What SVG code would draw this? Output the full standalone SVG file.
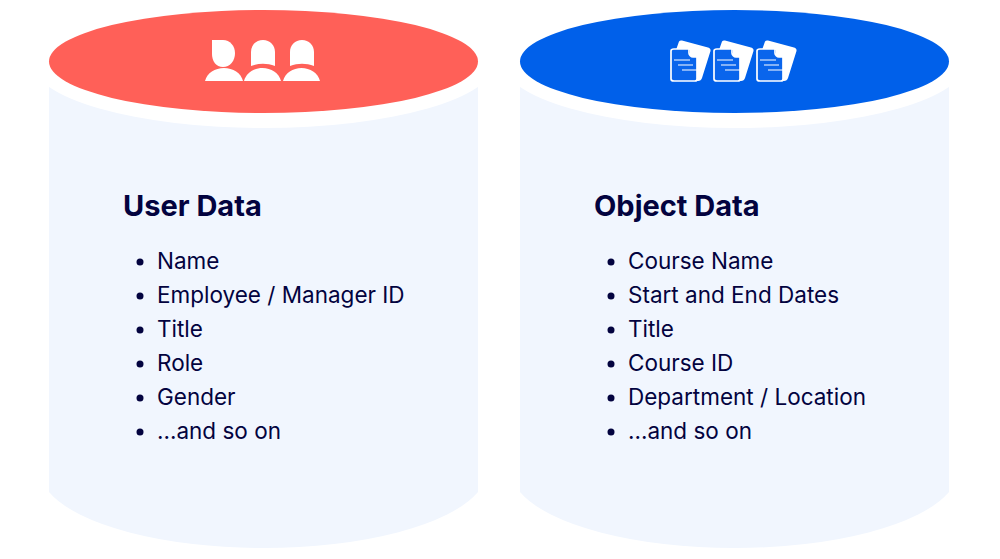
<svg xmlns="http://www.w3.org/2000/svg" width="1000" height="559" viewBox="0 0 1000 559">
<defs>
<style>
.body{fill:#f1f6fe}
.gap{fill:#fff}
.h{font-family:Inter,"Liberation Sans",sans-serif;font-size:29px;font-weight:700;fill:#03033f}
.t{font-family:Inter,"Liberation Sans",sans-serif;font-size:22.5px;fill:#03033f}
.d{fill:#03033f}
.w{fill:#fff}
.ds{fill:#0a65ec;stroke:#fff;stroke-width:1.7}
.l{stroke:#fff;stroke-width:1.1;fill:none}
</style>
<g id="person"><path class="w" d="M212 40H223C230 40 235 46 235 53C235 61 230 67 223 67C216 67 212 61 212 54Z"/><path class="w" d="M205 81C207 73 215 68 224 68C233 68 241 73 243 81Z"/></g>
<g id="person2"><path class="w" d="M251 66V52C251 45 256 40 263 40C270 40 275 45 275 52V66C267 63 259 63 251 66Z"/><path class="w" d="M244 81C246 73 254 68 262.500 68C271 68 279 73 281 81Z"/></g>
<g id="doc"><path class="w" d="M676 50L679 41.500Q680 40 682 40.500L708 47.500Q711 48.500 710.500 51L702 78Q701 81 698 81H690V50Z"/><path class="ds" d="M674 49H689V53C689 55 691 57 693 57H697V79C697 80 696 81 695 81H674C672 81 671 80 671 79V51C671 50 672 49 674 49Z"/><path class="l" d="M674 60H690M678 65H693M682 70H698"/></g>
</defs>
<g id="user-data">
<path class="body" d="M49 60H478V492A224 78 0 0 1 263.500 548A224 78 0 0 1 49 492Z"/>
<ellipse class="gap" cx="263.500" cy="61.500" rx="232" ry="66.500"/>
<rect class="gap" x="31" y="40" width="18" height="60"/>
<rect class="gap" x="478" y="40" width="18" height="60"/>
<ellipse cx="263.500" cy="61.500" rx="214.500" ry="51.500" fill="#ff6058"/>
<use href="#person"/><use href="#person2"/><use href="#person2" x="39"/>
<text class="h" x="123" y="216">User Data</text>
<circle class="d" cx="140" cy="262" r="3.500"/><text class="t" x="157" y="269">Name</text>
<circle class="d" cx="140" cy="296" r="3.500"/><text class="t" x="157" y="303">Employee / Manager ID</text>
<circle class="d" cx="140" cy="330" r="3.500"/><text class="t" x="157" y="337">Title</text>
<circle class="d" cx="140" cy="364" r="3.500"/><text class="t" x="157" y="371">Role</text>
<circle class="d" cx="140" cy="398" r="3.500"/><text class="t" x="157" y="405">Gender</text>
<circle class="d" cx="140" cy="432" r="3.500"/><text class="t" x="157" y="439">...and so on</text>
</g>
<g id="object-data">
<path class="body" d="M520 60H949V492A224 78 0 0 1 734.500 548A224 78 0 0 1 520 492Z"/>
<ellipse class="gap" cx="734.500" cy="61.500" rx="232" ry="66.500"/>
<rect class="gap" x="496" y="40" width="24" height="60"/>
<rect class="gap" x="949" y="40" width="18" height="60"/>
<ellipse cx="734.500" cy="61.500" rx="214.500" ry="51.500" fill="#0060ea"/>
<use href="#doc"/><use href="#doc" x="43"/><use href="#doc" x="86"/>
<text class="h" x="594" y="216">Object Data</text>
<circle class="d" cx="611" cy="262" r="3.500"/><text class="t" x="628" y="269">Course Name</text>
<circle class="d" cx="611" cy="296" r="3.500"/><text class="t" x="628" y="303">Start and End Dates</text>
<circle class="d" cx="611" cy="330" r="3.500"/><text class="t" x="628" y="337">Title</text>
<circle class="d" cx="611" cy="364" r="3.500"/><text class="t" x="628" y="371">Course ID</text>
<circle class="d" cx="611" cy="398" r="3.500"/><text class="t" x="628" y="405">Department / Location</text>
<circle class="d" cx="611" cy="432" r="3.500"/><text class="t" x="628" y="439">...and so on</text>
</g>
<g id="connectors"></g>
</svg>
